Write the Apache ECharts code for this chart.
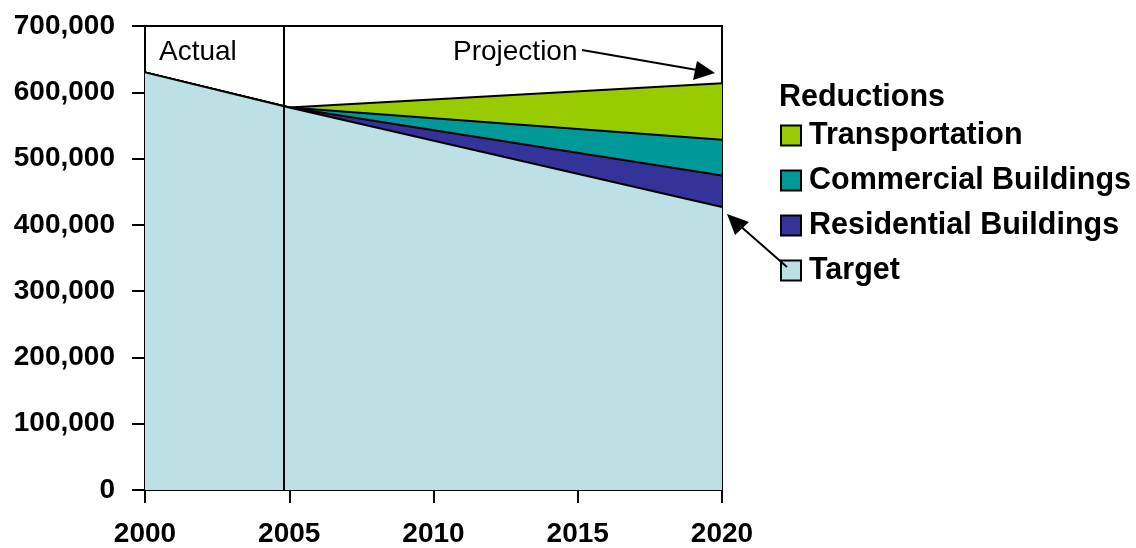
<!DOCTYPE html>
<html>
<head>
<meta charset="utf-8">
<script src="https://cdn.jsdelivr.net/npm/echarts@6/dist/echarts.min.js"></script>
<style>
html,body{margin:0;padding:0;background:#fff;}
#chart{width:1136px;height:548px;}
</style>
</head>
<body>
<div id="chart"></div>
<script>
var years = [2000, 2005, 2020];
var target = [630000, 577000, 427000];
var residential = [0, 0, 47500];
var commercial = [0, 0, 53800];
var transportation = [0, 0, 85500];
var xTicks = [2000, 2005, 2010, 2015, 2020];
var yTicks = [0, 100000, 200000, 300000, 400000, 500000, 600000, 700000];
var dividerYear = 2004.8;

var FONT = '"Liberation Sans", Arial, Helvetica, sans-serif';

// cumulative tops (stack order: Target, Residential, Commercial, Transportation)
var layers = [target, residential, commercial, transportation];
var cum = [];
var run = years.map(function(){ return 0; });
layers.forEach(function(arr){
  run = run.map(function(v,i){ return v + arr[i]; });
  cum.push(run.slice());
});

function pairs(vals){ return years.map(function(y,i){ return [y, vals[i]]; }); }

function areaSeries(name, vals, color, z){
  return {
    name: name,
    type: 'line',
    data: pairs(vals),
    symbol: 'none',
    showSymbol: false,
    itemStyle: {color: color},
    lineStyle: {color: '#000', width: 2},
    areaStyle: {color: color, opacity: 1, origin: 'start'},
    emphasis: {disabled: true},
    z: z
  };
}

var chart = echarts.init(document.getElementById('chart'));
chart.setOption({
  animation: false,
  backgroundColor: '#fff',
  grid: {left: 145, right: 414, top: 26, bottom: 57, show: true, borderColor: '#000', borderWidth: 2, backgroundColor: 'transparent'},
  xAxis: {
    type: 'value', min: xTicks[0], max: xTicks[xTicks.length-1], interval: 5,
    axisLine: {show: true, lineStyle: {color: '#000', width: 2}},
    axisTick: {show: true, length: 13, lineStyle: {color: '#000', width: 2}},
    axisLabel: {margin: 30, fontSize: 28, fontWeight: 'bold', color: '#000', fontFamily: FONT, formatter: function(v){ return String(v); }},
    splitLine: {show: false}
  },
  yAxis: {
    type: 'value', min: yTicks[0], max: yTicks[yTicks.length-1], interval: 100000,
    axisLine: {show: true, lineStyle: {color: '#000', width: 2}},
    axisTick: {show: true, length: 13, lineStyle: {color: '#000', width: 2}},
    axisLabel: {margin: 30, fontSize: 28, fontWeight: 'bold', color: '#000', fontFamily: FONT, formatter: function(v){ return v.toLocaleString('en-US'); }},
    splitLine: {show: false}
  },
  legend: {
    orient: 'vertical', left: 780, top: 120, itemGap: 14, padding: 0,
    itemWidth: 20, itemHeight: 20, icon: 'rect',
    itemStyle: {borderColor: '#000', borderWidth: 2},
    textStyle: {fontSize: 30.5, fontWeight: 'bold', color: '#000', fontFamily: FONT, padding: [0,0,0,3]},
    data: ['Transportation', 'Commercial Buildings', 'Residential Buildings', 'Target'],
    selectedMode: false
  },
  series: [
    areaSeries('Transportation', cum[3], '#99CC00', 2),
    areaSeries('Commercial Buildings', cum[2], '#009999', 3),
    areaSeries('Residential Buildings', cum[1], '#333399', 4),
    areaSeries('Target', cum[0], '#BCE0E3', 5),
    {
      name: 'divider', type: 'line', data: [], z: 20, symbol: 'none',
      markLine: {
        silent: true, symbol: ['none','none'], label: {show: false}, z: 20,
        lineStyle: {color: '#000', width: 2, type: 'solid'},
        data: [[{coord: [dividerYear, yTicks[0]]}, {coord: [dividerYear, yTicks[yTicks.length-1]]}]]
      }
    }
  ],
  graphic: [
    {type: 'text', left: 159, top: 38, style: {text: 'Actual', fontSize: 28, fontFamily: FONT, fill: '#000'}},
    {type: 'text', left: 453, top: 38, style: {text: 'Projection', fontSize: 28, fontFamily: FONT, fill: '#000'}},
    {type: 'text', left: 779, top: 82, style: {text: 'Reductions', fontSize: 30.5, fontWeight: 'bold', fontFamily: FONT, fill: '#000'}},
    {type: 'line', shape: {x1: 582, y1: 50, x2: 703, y2: 71}, style: {stroke: '#000', lineWidth: 2}, z: 10},
    {type: 'polygon', shape: {points: [[715,73],[697,61],[693,80]]}, style: {fill: '#000'}, z: 10},
    {type: 'line', shape: {x1: 787, y1: 267, x2: 738, y2: 224}, style: {stroke: '#000', lineWidth: 2}, z: 10},
    {type: 'polygon', shape: {points: [[727,214],[749,222],[735,235]]}, style: {fill: '#000'}, z: 10}
  ]
});
</script>
</body>
</html>
